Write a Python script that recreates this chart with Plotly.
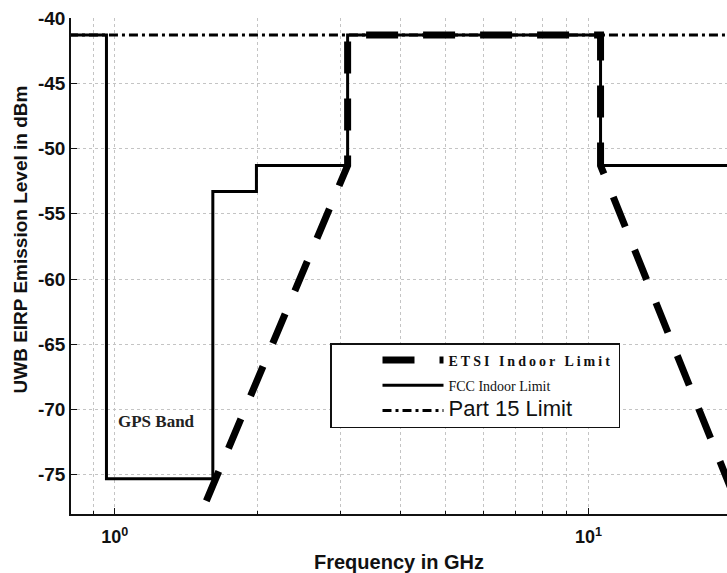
import math
import plotly.graph_objects as go

# ---- data ----
fcc_freq = [0.8, 0.96, 0.96, 1.61, 1.61, 1.99, 1.99, 3.1, 3.1, 10.6, 10.6, 21]
fcc_level = [-41.3, -41.3, -75.3, -75.3, -53.3, -53.3, -51.3, -51.3, -41.3, -41.3, -51.3, -51.3]

etsi_freq = [1.56, 3.1, 3.1, 10.6, 10.6, 21]
etsi_level = [-77.0, -51.3, -41.3, -41.3, -51.3, -78.0]

part15_freq = [0.8, 21]
part15_level = [-41.3, -41.3]

x_major = [1, 10]
x_major_text = ["10<sup>0</sup>", "10<sup>1</sup>"]
x_minor = [0.9, 2, 3, 4, 5, 6, 7, 8, 9, 20]
y_ticks = [-75, -70, -65, -60, -55, -50, -45, -40]
y_tick_text = ["-75", "-70", "-65", "-60", "-55", "-50", "-45", "-40"]

gps_label = "GPS Band"
gps_pos = (1.226, -70.9)

# ---- layout geometry (pixels) ----
W, H = 727, 573
L, R, T, B = 71, 0, 18, 59
PW, PH = W - L - R, H - T - B


def px_x(p):
    return (p - L) / PW


def px_y(p):
    return 1 - (p - T) / PH


fig = go.Figure()
fig.add_trace(go.Scatter(
    x=etsi_freq, y=etsi_level, mode="lines", legendgroup="etsi",
    name='<span style="font-family:Liberation Serif;font-size:14px;letter-spacing:3px;font-weight:bold">ETSI Indoor Limit</span>',
    line=dict(color="black", width=7, dash="32px,25px"),
))
fig.add_trace(go.Scatter(
    x=fcc_freq, y=fcc_level, mode="lines", legendgroup="fcc",
    name='<span style="font-family:Liberation Serif;font-size:14px">FCC Indoor Limit</span>',
    line=dict(color="black", width=3),
))
fig.add_trace(go.Scatter(
    x=part15_freq, y=part15_level, mode="lines", legendgroup="p15",
    name='<span style="font-family:Liberation Sans;font-size:22px">Part 15 Limit</span>',
    line=dict(color="black", width=3, dash="9px,4px,3px,4px"),
))

fig.add_annotation(
    x=math.log10(gps_pos[0]), y=gps_pos[1], xref="x", yref="y",
    text="<b>" + gps_label + "</b>", showarrow=False,
    font=dict(family="Liberation Serif", size=17, color="#222"),
)
# y-axis title (centred where the original, taller axis was centred)
fig.add_annotation(
    x=px_x(22), y=px_y(240), xref="paper", yref="paper", xshift=-14,
    text="UWB EIRP Emission Level in dBm", textangle=-90, showarrow=False,
    font=dict(family="Liberation Sans", size=19, color="#111", weight="bold"),
)

grid_col = "#c4c4c4"
fig.update_layout(
    width=W, height=H,
    margin=dict(l=L, r=R, t=T, b=B, autoexpand=False),
    paper_bgcolor="white", plot_bgcolor="white",
    font=dict(family="Liberation Sans", color="#111"),
    showlegend=True,
    legend=dict(
        x=px_x(330), y=px_y(343),
        xanchor="left", yanchor="top",
        bordercolor="#111", borderwidth=1.5, bgcolor="white",
        itemwidth=61, indentation=46, entrywidth=270, entrywidthmode="pixels",
        font=dict(size=14, color="#111"),
        tracegroupgap=4,
    ),
    xaxis=dict(
        type="log", range=[math.log10(0.808), math.log10(19.6)],
        tickmode="array", tickvals=x_major, ticktext=x_major_text,
        tickfont=dict(size=18, family="Liberation Sans", color="#111", weight="bold"),
        ticks="inside", ticklen=6, tickcolor="#111", ticklabelstandoff=6,
        showgrid=True, gridcolor=grid_col, griddash="dot", gridwidth=1,
        minor=dict(tickvals=x_minor, ticks="inside", ticklen=3, tickcolor="#111",
                   showgrid=True, gridcolor=grid_col, griddash="dot", gridwidth=1),
        showline=True, linecolor="#111", linewidth=1.5,
        title=dict(text="Frequency in GHz",
                   font=dict(size=20, color="#111", weight="bold"), standoff=10),
        zeroline=False, automargin=False,
    ),
    yaxis=dict(
        range=[-78, -40],
        tickmode="array", tickvals=y_ticks, ticktext=y_tick_text,
        tickfont=dict(size=19, family="Liberation Sans", color="#111", weight="bold"),
        ticks="inside", ticklen=6, tickcolor="#111",
        showgrid=True, gridcolor=grid_col, griddash="dot", gridwidth=1,
        showline=True, linecolor="#111", linewidth=1.5,
        zeroline=False, automargin=False,
    ),
)

fig.write_html(
    "out.html",
    config={"displayModeBar": False},
    post_script="document.body.style.margin='0';document.body.style.overflow='hidden';",
)
